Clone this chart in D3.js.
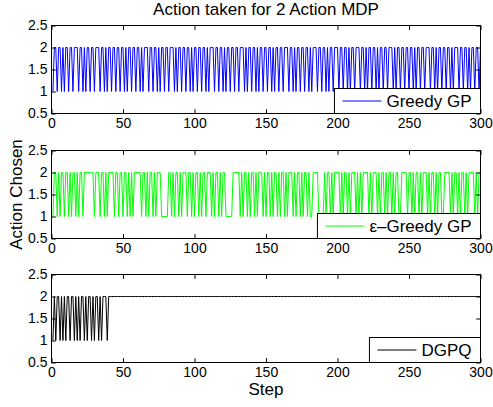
<!DOCTYPE html>
<html>
<head>
<meta charset="UTF-8">
<title>Action taken for 2 Action MDP</title>
<script src="https://d3js.org/d3.v7.min.js"></script>
<style>
  body { margin: 0; background: #fff; }
  svg text { font-family: "Liberation Sans", Arial, Helvetica, sans-serif; fill: #000; }
</style>
</head>
<body>
<svg id="chart" width="493" height="407"></svg>
<script>
// tick labels
var xTicks = [0, 50, 100, 150, 200, 250, 300];
var yTicks = [0.5, 1, 1.5, 2, 2.5];

// legend names, one per panel
var seriesNames = ['Greedy GP', 'ε–Greedy GP', 'DGPQ'];

// action chosen at steps 1..300
var greedy = [
  1, 2,2,1, 2,2,1, 2,1, 2,2,1, 2,2,1, 2,2,2,1, 2,2,1, 2,1, 2,2,1, 2,2,1, 2,2,2,1, 2,2,1, 2,1, 2,2,1, 2,2,1, 2,2,1, 2,2,
  1, 2,1, 2,2,1, 2,2,1, 2,2,1, 2,1, 2,2,2,1, 2,2,1, 2,2,1, 2,1, 2,2,1, 2,2,1, 2,2,2,1, 2,1, 2,2,1, 2,2,1, 2,2,1, 2,1, 2,
  2,1, 2,2,1, 2,2,1, 2,1, 2,2,2,1, 2,2,1, 2,2,1, 2,1, 2,2,1, 2,2,1, 2,2,1, 2,2,2,1, 2,1, 2,2,1, 2,2,1, 2,1, 2,2,1, 2,2,
  1, 2,2,1, 2,1, 2,2,1, 2,2,1, 2,2,2,1, 2,2,1, 2,1, 2,2,1, 2,2,1, 2,2,1, 2,1, 2,2,2,1, 2,2,1, 2,2,1, 2,1, 2,2,1, 2,2,2,
  1, 2,2,1, 2,2,1, 2,1, 2,2,1, 2,2,2,1, 2,2,1, 2,1, 2,2,1, 2,2,1, 2,1, 2,2,1, 2,2,1, 2,2,2,1, 2,1, 2,2,1, 2,2,1, 2,2,1,
  2,2,1, 2,1, 2,2,1, 2,2,1, 2,2,2,1, 2,2,1, 2,1, 2,2,1, 2,2,1, 2,2,1, 2,1, 2,2,2,1, 2,2,1, 2,2,1, 2,1, 2,2,1, 2,2,1, 2
];

var epsGreedy = [
  1, 2,2,1, 2,1, 2,2,1, 2,2,1, 2,1, 2,2,1, 2,1, 2,2,1, 2,2,2,2,2,2,2,1, 2,2,2,1, 2,2,1, 2,1, 2,2,2,2,1, 2,2,1, 2,2,1,
  2,2,1, 2,1, 2,1, 2,2,2,2,2,1, 2,2,1, 2,1, 2,2,1, 2,1, 2,2,2,1,1,1,1,1, 2,2,1, 2,1, 2,2,1, 2,1, 2,2,2,1, 2,2,1, 2,1,
  2,2,1, 2,1, 2,2,1, 2,2,2,1, 2,1, 2,2,1, 2,1, 2,2,1,1,1,1,1, 2,2,2,2,2,1, 2,1, 2,2,1, 2,1, 2,2,1, 2,1, 2,2,2,1, 2,1,
  2,2,1, 2,1, 2,2,1, 2,1, 2,2,1, 2,1, 2,2,2,1, 2,1, 2,2,1, 2,1, 2,2,1, 2,1,1, 2,2,2,2,1,1,1,1, 2,1, 2,2,1, 2,1, 2,2,2,
  2,1, 2,1, 2,2,1, 2,1, 2,2,2,1, 2,1, 2,1, 2,2,2,2,1, 2,1, 2,2,2,1, 2,1, 2,2,1, 2,1, 2,2,1, 2,1, 2,2,1,1, 2,2,2,2,1, 2,
  2,1, 2,1, 2,2,1, 2,1, 2,2,2,1, 2,1, 2,2,1, 2,1, 2,2,1,1, 2,2,2,2,1, 2,1, 2,2,1, 2,1, 2,2,1, 2,1, 2,2,2,2,1, 2,1, 2,2
];

var dgpq = [
  1, 2,1, 2,2,1, 2,1, 2,1, 2,2,1, 2,2,1, 2,1, 2,1, 2,2,1, 2,1, 2,2,1, 2,1, 2,2,1, 2,1, 2,2,2,1, 2,2,2,2,2,2,2,2,2,2,2,
  2,2,2,2,2,2,2,2,2,2, 2,2,2,2,2,2,2,2,2,2, 2,2,2,2,2,2,2,2,2,2, 2,2,2,2,2,2,2,2,2,2, 2,2,2,2,2,2,2,2,2,2,
  2,2,2,2,2,2,2,2,2,2, 2,2,2,2,2,2,2,2,2,2, 2,2,2,2,2,2,2,2,2,2, 2,2,2,2,2,2,2,2,2,2, 2,2,2,2,2,2,2,2,2,2,
  2,2,2,2,2,2,2,2,2,2, 2,2,2,2,2,2,2,2,2,2, 2,2,2,2,2,2,2,2,2,2, 2,2,2,2,2,2,2,2,2,2, 2,2,2,2,2,2,2,2,2,2,
  2,2,2,2,2,2,2,2,2,2, 2,2,2,2,2,2,2,2,2,2, 2,2,2,2,2,2,2,2,2,2, 2,2,2,2,2,2,2,2,2,2, 2,2,2,2,2,2,2,2,2,2,
  2,2,2,2,2,2,2,2,2,2, 2,2,2,2,2,2,2,2,2,2, 2,2,2,2,2,2,2,2,2,2, 2,2,2,2,2,2,2,2,2,2, 2,2,2,2,2,2,2,2,2,2
];

var allSeries = [greedy, epsGreedy, dgpq];
var colors = ['#0000ff', '#00ff00', '#000000'];

var svg = d3.select('#chart');

var left = 51.5, right = 480.5,
    panelTops = [25.5, 150.5, 274.5],
    panelH = 88,
    tickLen = 4.3;

var x = d3.scaleLinear().domain([0, 300]).range([left, right]);

allSeries.forEach(function(values, k) {
    var top = panelTops[k],
        bottom = top + panelH;
    var y = d3.scaleLinear().domain([0.5, 2.5]).range([bottom, top]);

    var g = svg.append('g').attr('class', 'panel');

    g.append('clipPath').attr('id', 'clip' + k)
      .append('rect')
        .attr('x', left).attr('y', top)
        .attr('width', right - left).attr('height', panelH);

    var line = d3.line()
                 .x(function(d, i) { return x(i + 1); })
                 .y(function(d) { return y(d); });

    g.append('path')
      .datum(values)
      .attr('d', line)
      .attr('fill', 'none')
      .attr('stroke', colors[k])
      .attr('stroke-width', 1)
      .attr('clip-path', 'url(#clip' + k + ')');

    // bottom axis with labels, ticks pointing inward
    var xb = g.append('g')
      .attr('transform', 'translate(0,' + bottom + ')')
      .call(d3.axisBottom(x).tickValues(xTicks).tickSizeInner(-tickLen).tickSizeOuter(0)
              .tickPadding(5).tickFormat(d3.format('d')));
    // top ticks only
    var xt = g.append('g')
      .attr('transform', 'translate(0,' + top + ')')
      .call(d3.axisTop(x).tickValues(xTicks).tickSizeInner(-tickLen).tickSizeOuter(0).tickFormat(''));
    // left axis with labels
    var yl = g.append('g')
      .attr('transform', 'translate(' + left + ',0)')
      .call(d3.axisLeft(y).tickValues(yTicks).tickSizeInner(-tickLen).tickSizeOuter(0)
              .tickPadding(4).tickFormat(function(d) { return String(d); }));
    // right ticks only
    var yr = g.append('g')
      .attr('transform', 'translate(' + right + ',0)')
      .call(d3.axisRight(y).tickValues(yTicks).tickSizeInner(-tickLen).tickSizeOuter(0).tickFormat(''));

    [xb, xt, yl, yr].forEach(function(a) {
        a.select('.domain').remove();
        a.attr('font-family', null).attr('font-size', 14);
        a.selectAll('line').attr('stroke', '#000');
    });

    // axes box
    g.append('rect')
      .attr('x', left).attr('y', top)
      .attr('width', right - left).attr('height', panelH)
      .attr('fill', 'none').attr('stroke', '#000').attr('stroke-width', 1);

    // legend in the lower right corner
    var lg = g.append('g');
    var txt = lg.append('text').attr('font-size', 17).text(seriesNames[k]);
    var tw = txt.node().getComputedTextLength();
    var boxW = tw + 61, boxH = 25;
    var bx = right - boxW, by = bottom - boxH;
    lg.insert('rect', 'text')
      .attr('x', bx).attr('y', by)
      .attr('width', boxW).attr('height', boxH)
      .attr('fill', '#fff').attr('stroke', '#000').attr('stroke-width', 1);
    lg.append('line')
      .attr('x1', bx + 8).attr('x2', bx + 47)
      .attr('y1', by + boxH / 2).attr('y2', by + boxH / 2)
      .attr('stroke', colors[k]).attr('stroke-width', 1);
    txt.attr('x', bx + 52).attr('y', by + boxH / 2 + 6);
});

// title and axis labels
svg.append('text')
   .attr('x', (left + right) / 2).attr('y', 15)
   .attr('text-anchor', 'middle').attr('font-size', 17)
   .text('Action taken for 2 Action MDP');

svg.append('text')
   .attr('x', (left + right) / 2).attr('y', 395)
   .attr('text-anchor', 'middle').attr('font-size', 17)
   .text('Step');

svg.append('text')
   .attr('transform', 'translate(21.5,' + (panelTops[1] + panelH / 2) + ') rotate(-90)')
   .attr('text-anchor', 'middle').attr('font-size', 17)
   .text('Action Chosen');
</script>
</body>
</html>
